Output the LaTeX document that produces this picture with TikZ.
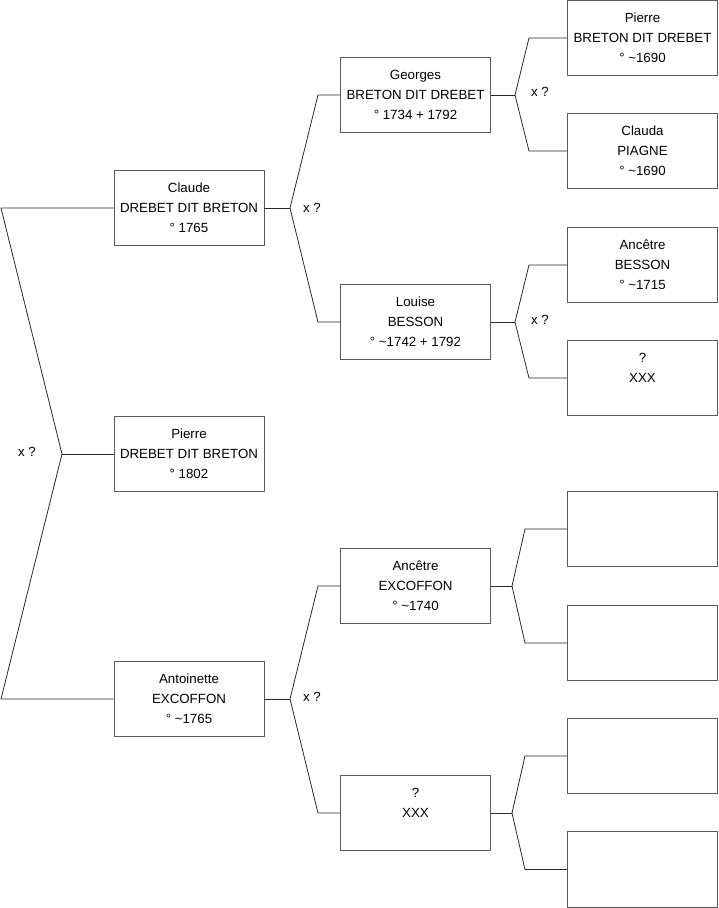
\documentclass[tikz,border=0pt]{standalone}
\usepackage{fontspec}
\setmainfont{Liberation Sans}
\definecolor{boxgray}{RGB}{90,90,90}
\definecolor{linegray}{RGB}{40,40,40}
\begin{document}
\begin{tikzpicture}[x=1pt,y=-1pt,
  person/.style={draw=boxgray, line width=0.9pt, fill=white, minimum width=150pt, minimum height=75.5pt, inner sep=0pt, align=center, font=\fontsize{13.3}{20}\selectfont},
  link/.style={draw=linegray, line width=0.8pt},
  xmark/.style={font=\fontsize{13.3}{15}\selectfont, inner sep=0pt}]
\useasboundingbox (0,0) rectangle (719,908);
% generation 1
\node[person] (claude) at (189,208) {Claude\\DREBET DIT BRETON\\° 1765};
\node[person] (pierre) at (189,454) {Pierre\\DREBET DIT BRETON\\° 1802};
\node[person] (antoinette) at (189,699) {Antoinette\\EXCOFFON\\° \textasciitilde1765};
% generation 2
\node[person] (georges) at (415.5,95) {Georges\\BRETON DIT DREBET\\° 1734 + 1792};
\node[person] (louise) at (415.5,322) {Louise\\BESSON\\° \textasciitilde1742 + 1792};
\node[person] (ancexc) at (415.5,586) {Ancêtre\\EXCOFFON\\° \textasciitilde1740};
\node[person] (xxxb) at (415.5,813) {?\\XXX\\\mbox{}};
% generation 3
\node[person] (pierreb) at (642.5,38) {Pierre\\BRETON DIT DREBET\\° \textasciitilde1690};
\node[person] (clauda) at (642.5,151) {Clauda\\PIAGNE\\° \textasciitilde1690};
\node[person] (ancbes) at (642.5,265) {Ancêtre\\BESSON\\° \textasciitilde1715};
\node[person] (xxxa) at (642.5,378) {?\\XXX\\\mbox{}};
\node[person] (e1) at (642.5,529) {};
\node[person] (e2) at (642.5,643) {};
\node[person] (e3) at (642.5,756) {};
\node[person] (e4) at (642.5,869.5) {};
% root connectors
\coordinate (r1) at (1,208);
\coordinate (r2) at (62,454);
\coordinate (r3) at (1,699);
\draw[link] (claude.west) -- (r1) -- (r2) -- (r3) -- (antoinette.west);
\draw[link] (r2) -- (pierre.west);
\node[xmark] (m0) at (27,452) {x ?};
% Claude
\coordinate (c0) at (290,208);
\coordinate (c1) at (318,95);
\coordinate (c2) at (318,322);
\draw[link] (claude.east) -- (c0);
\draw[link] (georges.west) -- (c1) -- (c0) -- (c2) -- (louise.west);
\node[xmark] (m1) at (312,208) {x ?};
% Antoinette
\coordinate (a0) at (290,699);
\coordinate (a1) at (318,586);
\coordinate (a2) at (318,813);
\draw[link] (antoinette.east) -- (a0);
\draw[link] (ancexc.west) -- (a1) -- (a0) -- (a2) -- (xxxb.west);
\node[xmark] (m2) at (312,697) {x ?};
% Georges
\coordinate (g0) at (515,95);
\coordinate (g1) at (529,38);
\coordinate (g2) at (529,151);
\draw[link] (georges.east) -- (g0);
\draw[link] (pierreb.west) -- (g1) -- (g0) -- (g2) -- (clauda.west);
\node[xmark] (m3) at (540,92) {x ?};
% Louise
\coordinate (l0) at (515,322);
\coordinate (l1) at (529,265);
\coordinate (l2) at (529,378);
\draw[link] (louise.east) -- (l0);
\draw[link] (ancbes.west) -- (l1) -- (l0) -- (l2) -- (xxxa.west);
\node[xmark] (m4) at (540,320) {x ?};
% Ancetre Excoffon
\coordinate (x0) at (512,586);
\coordinate (x1) at (525,529);
\coordinate (x2) at (525,643);
\draw[link] (ancexc.east) -- (x0);
\draw[link] (e1.west) -- (x1) -- (x0) -- (x2) -- (e2.west);
% ? XXX
\coordinate (y0) at (512,813);
\coordinate (y1) at (525,756);
\coordinate (y2) at (525,869.5);
\draw[link] (xxxb.east) -- (y0);
\draw[link] (e3.west) -- (y1) -- (y0) -- (y2) -- (e4.west);
\end{tikzpicture}
\end{document}
